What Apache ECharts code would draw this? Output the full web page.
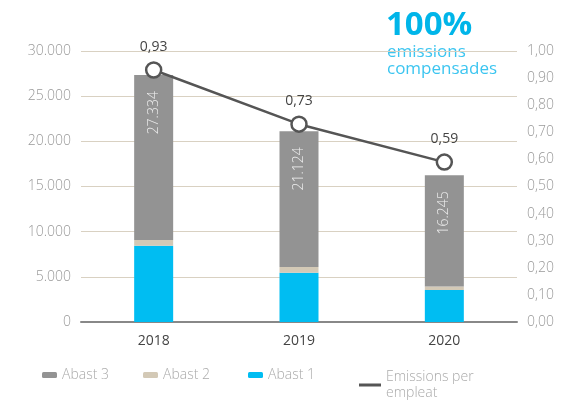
<!DOCTYPE html>
<html>
<head>
<meta charset="utf-8">
<script src="https://cdn.jsdelivr.net/npm/echarts@6/dist/echarts.min.js"></script>
<style>
  html, body { margin: 0; padding: 0; background: #fff; }
  #chart { width: 577px; height: 401px; }
</style>
</head>
<body>
<div id="chart"></div>
<script>
// Emissions by scope (tCO2e) and emissions per employee
const years = ['2018', '2019', '2020'];
const abast1 = [8450, 5450, 3550];
const abast2 = [630, 650, 380];
const abast3 = [18254, 15024, 12315];
const perEmpleat = [0.93, 0.73, 0.59];
const leftTicks = [0, 5000, 10000, 15000, 20000, 25000, 30000];
const rightTicks = [0, 0.1, 0.2, 0.3, 0.4, 0.5, 0.6, 0.7, 0.8, 0.9, 1.0];

const FONT = '"Open Sans", "Noto Sans", sans-serif';
const C_GREY = '#939393', C_BEIGE = '#d3c9b6', C_BLUE = '#00bdf2', C_LINE = '#555555';

const fmtThousands = v => String(Math.round(v)).replace(/\B(?=(\d{3})+(?!\d))/g, '.');
const fmtDec = v => v.toFixed(2).replace('.', ',');

const totals = years.map((_, i) => abast1[i] + abast2[i] + abast3[i]);

const chart = echarts.init(document.getElementById('chart'), null, { renderer: 'canvas' });

const legendText = { color: '#aaaaaa', fontSize: 14, fontFamily: FONT, fontWeight: 300 };
const mkLegend = (name, left) => ({
  left: left, top: 368, padding: 0, itemWidth: 15, itemHeight: 6, itemGap: 0,
  selectedMode: false, textStyle: legendText, data: [name]
});

chart.setOption({
  animation: false,
  textStyle: { fontFamily: FONT },
  grid: { left: 81, right: 60, top: 51, bottom: 79 },
  graphic: [
    { type: 'text', left: 386, top: 9, style: { text: '100%', fill: '#00b5e9', font: 'bold 33px ' + FONT } },
    { type: 'text', left: 387, top: 44, style: { text: 'emissions\ncompensades', fill: '#3cc5f0', font: '17px ' + FONT, lineHeight: 17 } }
  ],
  legend: [
    mkLegend('Abast 3', 42),
    mkLegend('Abast 2', 143),
    mkLegend('Abast 1', 248),
    {
      left: 359, top: 369, padding: 0, itemWidth: 22, itemHeight: 3, selectedMode: false,
      textStyle: Object.assign({}, legendText, { lineHeight: 16 }),
      data: [{ name: 'Emissions per\nempleat', icon: 'rect', itemStyle: { color: C_LINE, borderWidth: 0 } }]
    }
  ],
  xAxis: {
    type: 'category',
    data: years,
    axisLine: { lineStyle: { color: '#888888', width: 2 } },
    axisTick: { show: false },
    axisLabel: { color: '#444444', fontSize: 14, margin: 12, fontFamily: FONT }
  },
  yAxis: [
    {
      type: 'value', min: leftTicks[0], max: leftTicks[leftTicks.length - 1], interval: leftTicks[1] - leftTicks[0],
      axisLine: { show: false }, axisTick: { show: false },
      axisLabel: { color: '#999999', fontSize: 14, margin: 10, fontFamily: FONT, fontWeight: 300, formatter: fmtThousands },
      splitLine: { lineStyle: { color: '#d9d1c2', width: 1 } }
    },
    {
      type: 'value', min: rightTicks[0], max: rightTicks[rightTicks.length - 1], interval: 0.1,
      axisLine: { show: false }, axisTick: { show: false },
      axisLabel: { color: '#999999', fontSize: 14, margin: 10, fontFamily: FONT, fontWeight: 300, formatter: fmtDec },
      splitLine: { show: false }
    }
  ],
  series: [
    {
      name: 'Abast 1', type: 'bar', stack: 'abast', barWidth: 39, data: abast1,
      itemStyle: { color: C_BLUE }
    },
    {
      name: 'Abast 2', type: 'bar', stack: 'abast', barWidth: 39, data: abast2,
      itemStyle: { color: C_BEIGE }
    },
    {
      name: 'Abast 3', type: 'bar', stack: 'abast', barWidth: 39, data: abast3,
      itemStyle: { color: C_GREY },
      label: {
        show: true, position: 'insideTop', rotate: 90, align: 'right', verticalAlign: 'middle',
        distance: 16, color: '#eeeeee', fontSize: 14, fontFamily: FONT, fontWeight: 300,
        formatter: p => fmtThousands(totals[p.dataIndex])
      }
    },
    {
      name: 'Emissions per\nempleat', type: 'line', yAxisIndex: 1, data: perEmpleat,
      symbol: 'circle', symbolSize: 15,
      lineStyle: { color: C_LINE, width: 2.5 },
      itemStyle: { color: '#ffffff', borderColor: C_LINE, borderWidth: 2.5 },
      label: {
        show: true, position: 'top', distance: 7, color: '#444444', fontSize: 14, fontFamily: FONT,
        formatter: p => fmtDec(p.value)
      },
      z: 10
    }
  ]
});
</script>
</body>
</html>
